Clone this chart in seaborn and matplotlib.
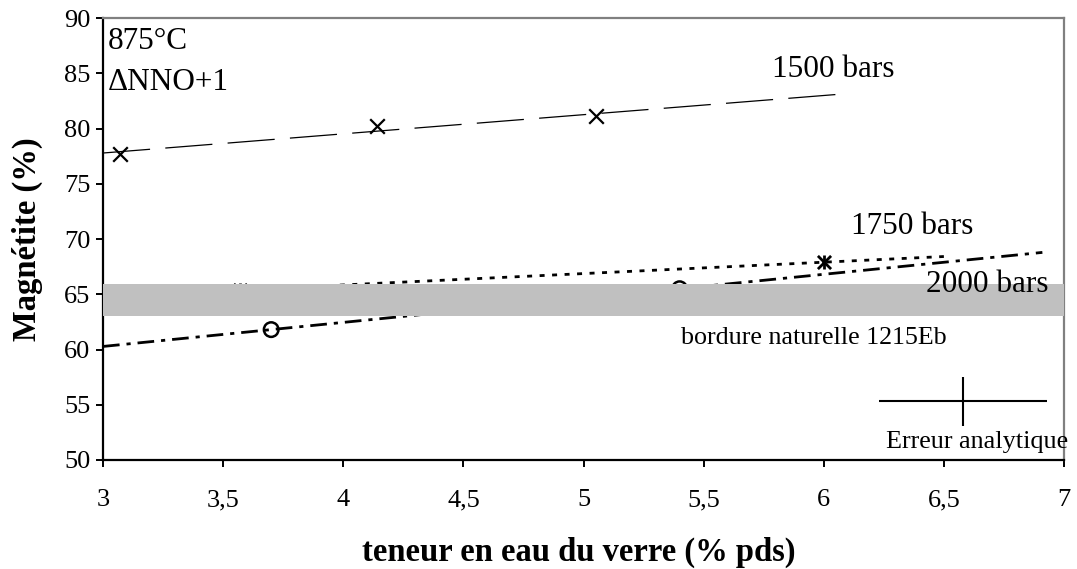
import numpy as np
import pandas as pd
import matplotlib
matplotlib.use("Agg")
import matplotlib.pyplot as plt
from matplotlib.ticker import FuncFormatter, MultipleLocator
import seaborn as sns

# Magnetite content vs. glass water content, 875°C, ΔNNO+1
water_1500 = [3.07, 4.14, 5.05]
magn_1500 = [77.7, 80.2, 81.1]
water_1750 = [3.57, 6.00]
magn_1750 = [65.4, 67.9]
water_2000 = [3.70, 5.40]
magn_2000 = [61.8, 65.5]

# extent of each linear trend line (water content, wt%)
trend_1500 = (3.00, 6.05)
trend_1750 = (3.57, 6.50)
trend_2000 = (3.00, 6.91)

# natural rim 1215Eb (magnetite range, %)
rim_low, rim_high = 63.0, 65.9

# analytical error cross: centre and half-widths
err_x, err_y = 6.58, 55.3
err_dx, err_dy = 0.35, 2.2

sns.set_theme(style="white")
plt.rcParams["font.family"] = ["Liberation Serif", "DejaVu Serif"]
plt.rcParams["lines.scale_dashes"] = False
for key in ["text.color", "axes.labelcolor", "xtick.color", "ytick.color"]:
    plt.rcParams[key] = "black"

fig = plt.figure(figsize=(10.77, 5.69), dpi=100)
ax = fig.add_axes([103 / 1077, 1 - 460 / 569, 961 / 1077, 442 / 569])

df = pd.concat([
    pd.DataFrame({"eau": water_1500, "mag": magn_1500, "P": "1500"}),
    pd.DataFrame({"eau": water_1750, "mag": magn_1750, "P": "1750"}),
    pd.DataFrame({"eau": water_2000, "mag": magn_2000, "P": "2000"}),
], ignore_index=True)


def trend(xs, ys, span):
    slope, icpt = np.polyfit(xs, ys, 1)
    xx = np.array(span)
    return xx, slope * xx + icpt


# trend lines
xx, yy = trend(water_1500, magn_1500, trend_1500)
l = sns.lineplot(x=xx, y=yy, ax=ax, color="black", lw=0.9, zorder=2).lines[-1]
l.set_dashes([34, 11])
xx, yy = trend(water_1750, magn_1750, trend_1750)
l = sns.lineplot(x=xx, y=yy, ax=ax, color="black", lw=2.0, zorder=2).lines[-1]
l.set_dashes([3.6, 5.4])
xx, yy = trend(water_2000, magn_2000, trend_2000)
l = sns.lineplot(x=xx, y=yy, ax=ax, color="black", lw=2.0, zorder=2).lines[-1]
l.set_dashes([12, 5, 3, 5])

# data points
d = df[df.P == "1500"]
sns.scatterplot(data=d, x="eau", y="mag", ax=ax, marker="x", s=110,
                color="black", linewidth=1.6, zorder=2.5)
d = df[df.P == "1750"]
for m in ["x", "|"]:
    sns.scatterplot(data=d, x="eau", y="mag", ax=ax, marker=m, s=90,
                    color="black", linewidth=2.0, zorder=2.5)
d = df[df.P == "2000"]
sns.scatterplot(data=d, x="eau", y="mag", ax=ax, marker="o", s=110,
                color="black", linewidth=1.8, zorder=2.5)
circles = ax.collections[-1]
circles.set_facecolor("none")
circles.set_edgecolor("black")

# natural rim band drawn over the lines
ax.axhspan(rim_low, rim_high, color="#c0c0c0", lw=0, zorder=3)

# analytical error cross
ax.errorbar([err_x], [err_y], xerr=[err_dx], yerr=[err_dy], fmt="none",
            ecolor="black", elinewidth=1.5, capsize=0, zorder=4)

# annotations
ax.text(3.02, 87.9, "875°C", fontsize=22.5, ha="left", va="center", zorder=5)
ax.text(3.02, 84.2, "ΔNNO+1", fontsize=22.5, ha="left", va="center", zorder=5)
ax.text(6.04, 85.3, "1500 bars", fontsize=22.5, ha="center", va="center", zorder=5)
ax.text(6.37, 71.1, "1750 bars", fontsize=22.5, ha="center", va="center", zorder=5)
ax.text(6.68, 65.9, "2000 bars", fontsize=22.5, ha="center", va="center", zorder=5)
ax.text(5.96, 61.0, "bordure naturelle 1215Eb", fontsize=18.7, ha="center",
        va="center", zorder=5)
ax.text(6.64, 51.6, "Erreur analytique", fontsize=18.8, ha="center",
        va="center", zorder=5, clip_on=False)

# axes
ax.set_xlim(3, 7)
ax.set_ylim(50, 90)
ax.xaxis.set_major_locator(MultipleLocator(0.5))
ax.yaxis.set_major_locator(MultipleLocator(5))
ax.xaxis.set_major_formatter(FuncFormatter(lambda v, p: f"{v:g}".replace(".", ",")))
ax.yaxis.set_major_formatter(FuncFormatter(lambda v, p: f"{v:g}"))
ax.tick_params(axis="both", direction="out", length=5, width=1.4,
               labelsize=19, color="black", labelcolor="black",
               left=True, bottom=True)
ax.tick_params(axis="x", pad=16)
ax.tick_params(axis="y", pad=4)

for side in ["left", "bottom"]:
    ax.spines[side].set_color("black")
    ax.spines[side].set_linewidth(1.6)
for side in ["top", "right"]:
    ax.spines[side].set_color("#808080")
    ax.spines[side].set_linewidth(1.6)

ax.set_xlabel("teneur en eau du verre (% pds)", fontsize=23.5, fontweight="bold")
ax.set_ylabel("Magnétite (%)", fontsize=23.5, fontweight="bold")
ax.xaxis.set_label_coords(0.495, -0.208)
ax.xaxis.label.set_va("center")
ax.yaxis.set_label_coords(-0.079, 0.5)
ax.yaxis.label.set_va("center")

fig.savefig("out.png", dpi=100)
